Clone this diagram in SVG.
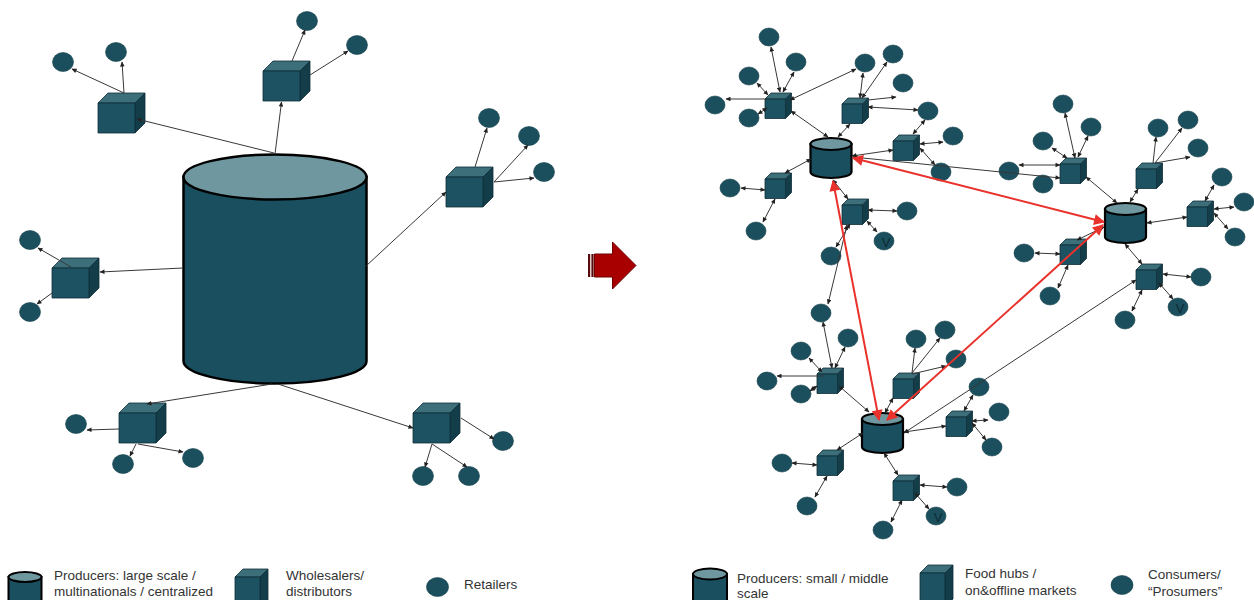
<svg xmlns="http://www.w3.org/2000/svg" xmlns:xlink="http://www.w3.org/1999/xlink" width="1254" height="600" viewBox="0 0 1254 600">
  <style>
    .bg { fill: #ffffff; }
    .dot { fill: #1b4f5d; stroke: #143f4a; stroke-width: 0.6; }
    .cf { fill: #1c5262; }
    .ct { fill: #3d6f7b; }
    .cs { fill: #123d49; }
    .cedge { stroke: #0f2f38; stroke-width: 0.8; stroke-linejoin: round; }
    .cylb { fill: #1a4f5f; stroke: #000; }
    .cylt { fill: #6f979f; stroke: #000; }
    .ln { stroke: #383838; stroke-width: 1; fill: none; marker-end: url(#ah); }
    .dbl { marker-start: url(#ah); }
    .red { stroke: #e8322b; stroke-width: 2; fill: none; marker-start: url(#rh); marker-end: url(#rh); }
    .lbl { font-family: "Liberation Sans", Arial, sans-serif; font-size: 13.5px; fill: #333; }
    .v { font-family: "Liberation Sans", Arial, sans-serif; font-size: 13px; fill: #0d2a33; }
  </style>
  <defs>
    <marker id="ah" viewBox="0 0 10 10" refX="9" refY="5" markerWidth="5.5" markerHeight="5" markerUnits="userSpaceOnUse" orient="auto-start-reverse">
      <path d="M0 0.5 L10 5 L0 9.5 Z" fill="#222"/>
    </marker>
    <marker id="rh" viewBox="0 0 10 10" refX="9" refY="5" markerWidth="14" markerHeight="11" markerUnits="userSpaceOnUse" orient="auto-start-reverse">
      <path d="M0 0 L10 5 L0 10 Z" fill="#e8322b"/>
    </marker>
    <!-- large wholesaler cube: front 37x30, depth 10 -->
    <g id="cubeL" class="cedge">
      <path class="ct" d="M0 10 L10 0 L47 0 L37 10 Z"/>
      <path class="cs" d="M37 10 L47 0 L47 30 L37 40 Z"/>
      <rect class="cf" x="0" y="10" width="37" height="30"/>
    </g>
    <!-- small hub cube: front 20.5x19.5, depth 6 -->
    <g id="cubeS" class="cedge">
      <path class="ct" d="M0 6 L6 0 L26.5 0 L20.5 6 Z"/>
      <path class="cs" d="M20.5 6 L26.5 0 L26.5 19.5 L20.5 25.5 Z"/>
      <rect class="cf" x="0" y="6" width="20.5" height="19.5"/>
    </g>
    <!-- legend cube -->
    <g id="cubeK" class="cedge">
      <path class="ct" d="M0 8 L8 0 L33 0 L25 8 Z"/>
      <path class="cs" d="M25 8 L33 0 L33 34 L25 42 Z"/>
      <rect class="cf" x="0" y="8" width="25" height="34"/>
    </g>
    <!-- small producer cylinder, centred on x=0, top at y=0 -->
    <g id="cylS" stroke-width="2.2">
      <path class="cylb" d="M-20.5 6 L-20.5 34 A20.5 6 0 0 0 20.5 34 L20.5 6 Z"/>
      <ellipse class="cylt" cx="0" cy="6" rx="20.5" ry="6"/>
    </g>
    <ellipse id="dotS" class="dot" cx="0" cy="0" rx="10" ry="9"/>
    <ellipse id="dotL" class="dot" cx="0" cy="0" rx="10.5" ry="9.5"/>
  </defs>

  <rect class="bg" x="0" y="0" width="1254" height="600"/>

  <!-- ===== centralized network ===== -->
  <g id="producer-large">
    <path class="cylb" stroke-width="2.5" d="M183.5 177 L183.5 361 A91.5 22.5 0 0 0 366.5 361 L366.5 177 Z"/>
    <ellipse class="cylt" stroke-width="2.5" cx="275" cy="177" rx="91.5" ry="22.5"/>
  </g>

  <g id="wholesaler-1"><use xlink:href="#cubeL" x="98" y="93"/></g>
  <g id="wholesaler-2"><use xlink:href="#cubeL" x="263" y="61"/></g>
  <g id="wholesaler-3"><use xlink:href="#cubeL" x="446" y="167"/></g>
  <g id="wholesaler-4"><use xlink:href="#cubeL" x="52" y="258"/></g>
  <g id="wholesaler-5"><use xlink:href="#cubeL" x="119" y="403"/></g>
  <g id="wholesaler-6"><use xlink:href="#cubeL" x="413" y="403"/></g>

  <g id="retailer-1"><use xlink:href="#dotL" x="63" y="62"/></g>
  <g id="retailer-2"><use xlink:href="#dotL" x="116" y="52"/></g>
  <g id="retailer-3"><use xlink:href="#dotL" x="307" y="21"/></g>
  <g id="retailer-4"><use xlink:href="#dotL" x="357" y="45"/></g>
  <g id="retailer-5"><use xlink:href="#dotL" x="489" y="118"/></g>
  <g id="retailer-6"><use xlink:href="#dotL" x="529" y="136"/></g>
  <g id="retailer-7"><use xlink:href="#dotL" x="544" y="172"/></g>
  <g id="retailer-8"><use xlink:href="#dotL" x="30" y="240"/></g>
  <g id="retailer-9"><use xlink:href="#dotL" x="30" y="312"/></g>
  <g id="retailer-10"><use xlink:href="#dotL" x="76" y="424"/></g>
  <g id="retailer-11"><use xlink:href="#dotL" x="123" y="464"/></g>
  <g id="retailer-12"><use xlink:href="#dotL" x="193" y="458"/></g>
  <g id="retailer-13"><use xlink:href="#dotL" x="503" y="441"/></g>
  <g id="retailer-14"><use xlink:href="#dotL" x="423" y="476"/></g>
  <g id="retailer-15"><use xlink:href="#dotL" x="469" y="476"/></g>

  <!-- transition arrow -->
  <g id="shift-arrow">
    <rect x="588" y="254" width="2.2" height="23" fill="#5a0a0a"/>
    <rect x="591.4" y="254" width="2.2" height="23" fill="#5a0a0a"/>
    <path d="M594.5 254 L612.5 254 L612.5 242 L636 265.5 L612.5 289 L612.5 277 L594.5 277 Z" fill="#a80000" stroke="#6e0000" stroke-width="1"/>
  </g>

  <!-- ===== decentralized network ===== -->
  <g id="producer-a"><use xlink:href="#cylS" x="831" y="138"/></g>
  <g id="producer-b"><use xlink:href="#cylS" x="1125.5" y="203"/></g>
  <g id="producer-c"><use xlink:href="#cylS" x="882.5" y="413"/></g>

  <g id="hub-1"><use xlink:href="#cubeS" x="765" y="93"/></g>
  <g id="hub-2"><use xlink:href="#cubeS" x="842" y="98"/></g>
  <g id="hub-3"><use xlink:href="#cubeS" x="893" y="135"/></g>
  <g id="hub-4"><use xlink:href="#cubeS" x="765" y="173"/></g>
  <g id="hub-5"><use xlink:href="#cubeS" x="842" y="199"/></g>
  <g id="hub-6"><use xlink:href="#cubeS" x="1060" y="158"/></g>
  <g id="hub-7"><use xlink:href="#cubeS" x="1136" y="163"/></g>
  <g id="hub-8"><use xlink:href="#cubeS" x="1187" y="201"/></g>
  <g id="hub-9"><use xlink:href="#cubeS" x="1060" y="239"/></g>
  <g id="hub-10"><use xlink:href="#cubeS" x="1136" y="264"/></g>
  <g id="hub-11"><use xlink:href="#cubeS" x="817" y="368"/></g>
  <g id="hub-12"><use xlink:href="#cubeS" x="893" y="373"/></g>
  <g id="hub-13"><use xlink:href="#cubeS" x="946" y="411"/></g>
  <g id="hub-14"><use xlink:href="#cubeS" x="817" y="450"/></g>
  <g id="hub-15"><use xlink:href="#cubeS" x="893" y="475"/></g>

  <g id="consumer-1"><use xlink:href="#dotS" x="769" y="37"/></g>
  <g id="consumer-2"><use xlink:href="#dotS" x="796" y="62"/></g>
  <g id="consumer-3"><use xlink:href="#dotS" x="749" y="76"/></g>
  <g id="consumer-4"><use xlink:href="#dotS" x="715" y="105"/></g>
  <g id="consumer-5"><use xlink:href="#dotS" x="749" y="118"/></g>
  <g id="consumer-6"><use xlink:href="#dotS" x="865" y="63"/></g>
  <g id="consumer-7"><use xlink:href="#dotS" x="893" y="54"/></g>
  <g id="consumer-8"><use xlink:href="#dotS" x="903" y="83"/></g>
  <g id="consumer-9"><use xlink:href="#dotS" x="928" y="111"/></g>
  <g id="consumer-10"><use xlink:href="#dotS" x="953" y="136"/></g>
  <g id="consumer-11"><use xlink:href="#dotS" x="941" y="172"/></g>
  <g id="consumer-12"><use xlink:href="#dotS" x="730" y="188"/></g>
  <g id="consumer-13"><use xlink:href="#dotS" x="756" y="231"/></g>
  <g id="consumer-14"><use xlink:href="#dotS" x="907" y="211"/></g>
  <g id="consumer-15"><use xlink:href="#dotS" x="884" y="241"/><text class="v" x="886" y="247" text-anchor="middle">V</text></g>
  <g id="consumer-16"><use xlink:href="#dotS" x="831" y="256"/></g>
  <g id="consumer-17"><use xlink:href="#dotS" x="1063" y="104"/></g>
  <g id="consumer-18"><use xlink:href="#dotS" x="1091" y="127"/></g>
  <g id="consumer-19"><use xlink:href="#dotS" x="1043" y="141"/></g>
  <g id="consumer-20"><use xlink:href="#dotS" x="1009" y="171"/></g>
  <g id="consumer-21"><use xlink:href="#dotS" x="1043" y="184"/></g>
  <g id="consumer-22"><use xlink:href="#dotS" x="1158" y="128"/></g>
  <g id="consumer-23"><use xlink:href="#dotS" x="1188" y="120"/></g>
  <g id="consumer-24"><use xlink:href="#dotS" x="1198" y="148"/></g>
  <g id="consumer-25"><use xlink:href="#dotS" x="1222" y="177"/></g>
  <g id="consumer-26"><use xlink:href="#dotS" x="1244" y="202"/></g>
  <g id="consumer-27"><use xlink:href="#dotS" x="1235" y="237"/></g>
  <g id="consumer-28"><use xlink:href="#dotS" x="1024" y="253"/></g>
  <g id="consumer-29"><use xlink:href="#dotS" x="1050" y="296"/></g>
  <g id="consumer-30"><use xlink:href="#dotS" x="1201" y="277"/></g>
  <g id="consumer-31"><use xlink:href="#dotS" x="1178" y="307"/><text class="v" x="1180" y="313" text-anchor="middle">V</text></g>
  <g id="consumer-32"><use xlink:href="#dotS" x="1125" y="320"/></g>
  <g id="consumer-33"><use xlink:href="#dotS" x="821" y="313"/></g>
  <g id="consumer-34"><use xlink:href="#dotS" x="848" y="338"/></g>
  <g id="consumer-35"><use xlink:href="#dotS" x="801" y="351"/></g>
  <g id="consumer-36"><use xlink:href="#dotS" x="767" y="381"/></g>
  <g id="consumer-37"><use xlink:href="#dotS" x="801" y="394"/></g>
  <g id="consumer-38"><use xlink:href="#dotS" x="916" y="339"/></g>
  <g id="consumer-39"><use xlink:href="#dotS" x="945" y="330"/></g>
  <g id="consumer-40"><use xlink:href="#dotS" x="956" y="359"/></g>
  <g id="consumer-41"><use xlink:href="#dotS" x="979" y="387"/></g>
  <g id="consumer-42"><use xlink:href="#dotS" x="999" y="412"/></g>
  <g id="consumer-43"><use xlink:href="#dotS" x="992" y="447"/></g>
  <g id="consumer-44"><use xlink:href="#dotS" x="782" y="463"/></g>
  <g id="consumer-45"><use xlink:href="#dotS" x="807" y="506"/></g>
  <g id="consumer-46"><use xlink:href="#dotS" x="957" y="487"/></g>
  <g id="consumer-47"><use xlink:href="#dotS" x="936" y="516"/><text class="v" x="938" y="522" text-anchor="middle">V</text></g>
  <g id="consumer-48"><use xlink:href="#dotS" x="883" y="530"/></g>

  <!-- ===== connectors ===== -->
  <g id="connectors">
    <!-- centralized: producer to wholesalers -->
    <line class="ln" x1="275" y1="154" x2="281.5" y2="102"/>
    <line class="ln" x1="274" y1="153" x2="137" y2="119"/>
    <line class="ln" x1="366" y1="266" x2="446" y2="192"/>
    <line class="ln" x1="183" y1="268" x2="100" y2="272"/>
    <line class="ln" x1="272" y1="384" x2="147" y2="404"/>
    <line class="ln" x1="278" y1="384" x2="413" y2="428"/>
    <!-- centralized: wholesalers to retailers -->
    <line class="ln" x1="292" y1="61" x2="305" y2="30"/>
    <line class="ln" x1="310" y1="75" x2="348" y2="51"/>
    <line class="ln" x1="124" y1="93" x2="122" y2="62"/>
    <line class="ln" x1="124" y1="93" x2="72" y2="69"/>
    <line class="ln" x1="475" y1="167" x2="487" y2="128"/>
    <line class="ln" x1="494" y1="182" x2="528" y2="145"/>
    <line class="ln" x1="494" y1="182" x2="534" y2="178"/>
    <line class="ln" x1="71" y1="267" x2="38" y2="248"/>
    <line class="ln" x1="52" y1="293" x2="37" y2="304"/>
    <line class="ln" x1="119" y1="429" x2="87" y2="430"/>
    <line class="ln" x1="136" y1="444" x2="130" y2="456"/>
    <line class="ln" x1="138" y1="444" x2="183" y2="452"/>
    <line class="ln" x1="461" y1="418" x2="494" y2="439"/>
    <line class="ln" x1="432" y1="444" x2="425" y2="467"/>
    <line class="ln" x1="432" y1="444" x2="467" y2="467"/>

    <!-- decentralized: cluster around producer A -->
    <line class="ln" x1="767" y1="99" x2="726" y2="99"/>
    <line class="ln dbl" x1="768" y1="95" x2="757" y2="83"/>
    <line class="ln dbl" x1="780" y1="92" x2="771" y2="47"/>
    <line class="ln dbl" x1="783" y1="92" x2="794" y2="72"/>
    <line class="ln dbl" x1="767" y1="108" x2="758" y2="114"/>
    <line class="ln dbl" x1="790" y1="100" x2="856" y2="69"/>
    <line class="ln dbl" x1="791" y1="111" x2="828" y2="137"/>
    <line class="ln dbl" x1="860" y1="98" x2="863" y2="73"/>
    <line class="ln dbl" x1="862" y1="98" x2="887" y2="62"/>
    <line class="ln" x1="868" y1="100" x2="896" y2="97"/>
    <line class="ln dbl" x1="868" y1="107" x2="918" y2="110"/>
    <line class="ln dbl" x1="850" y1="124" x2="838" y2="137"/>
    <line class="ln dbl" x1="925" y1="120" x2="913" y2="134"/>
    <line class="ln dbl" x1="920" y1="144" x2="943" y2="142"/>
    <line class="ln dbl" x1="920" y1="148" x2="935" y2="165"/>
    <line class="ln dbl" x1="852" y1="156" x2="893" y2="150"/>
    <line class="ln dbl" x1="853" y1="157" x2="1060" y2="178"/>
    <line class="ln dbl" x1="811" y1="159" x2="785" y2="173"/>
    <line class="ln dbl" x1="741" y1="188" x2="765" y2="190"/>
    <line class="ln dbl" x1="775" y1="199" x2="763" y2="222"/>
    <line class="ln dbl" x1="833" y1="180" x2="848" y2="199"/>
    <line class="ln dbl" x1="868" y1="210" x2="897" y2="211"/>
    <line class="ln dbl" x1="867" y1="221" x2="877" y2="232"/>
    <line class="ln dbl" x1="850" y1="224" x2="836" y2="247"/>
    <line class="ln dbl" x1="847" y1="225" x2="828" y2="304"/>

    <!-- decentralized: cluster around producer B -->
    <line class="ln dbl" x1="1075" y1="158" x2="1065" y2="113"/>
    <line class="ln dbl" x1="1078" y1="157" x2="1088" y2="136"/>
    <line class="ln dbl" x1="1067" y1="158" x2="1052" y2="148"/>
    <line class="ln dbl" x1="1019" y1="165" x2="1060" y2="165"/>
    <line class="ln dbl" x1="1086" y1="177" x2="1117" y2="203"/>
    <line class="ln dbl" x1="1138" y1="189" x2="1130" y2="202"/>
    <line class="ln" x1="1153" y1="163" x2="1156" y2="137"/>
    <line class="ln" x1="1155" y1="163" x2="1182" y2="128"/>
    <line class="ln" x1="1155" y1="163" x2="1190" y2="157"/>
    <line class="ln dbl" x1="1147" y1="223" x2="1187" y2="217"/>
    <line class="ln dbl" x1="1205" y1="201" x2="1214" y2="185"/>
    <line class="ln dbl" x1="1214" y1="209" x2="1234" y2="207"/>
    <line class="ln dbl" x1="1214" y1="213" x2="1228" y2="229"/>
    <line class="ln dbl" x1="1077" y1="240" x2="1104" y2="227"/>
    <line class="ln dbl" x1="1035" y1="253" x2="1060" y2="254"/>
    <line class="ln dbl" x1="1068" y1="265" x2="1058" y2="288"/>
    <line class="ln dbl" x1="1125" y1="244" x2="1142" y2="264"/>
    <line class="ln dbl" x1="1163" y1="274" x2="1191" y2="277"/>
    <line class="ln dbl" x1="1159" y1="283" x2="1173" y2="299"/>
    <line class="ln dbl" x1="1142" y1="290" x2="1132" y2="311"/>
    <line class="ln dbl" x1="1136" y1="280" x2="904" y2="433"/>

    <!-- decentralized: cluster around producer C -->
    <line class="ln dbl" x1="839" y1="386" x2="869" y2="412"/>
    <line class="ln dbl" x1="832" y1="368" x2="823" y2="322"/>
    <line class="ln dbl" x1="835" y1="368" x2="845" y2="347"/>
    <line class="ln dbl" x1="822" y1="372" x2="809" y2="358"/>
    <line class="ln" x1="825" y1="376" x2="777" y2="376"/>
    <line class="ln dbl" x1="817" y1="386" x2="810" y2="391"/>
    <line class="ln dbl" x1="893" y1="398" x2="885" y2="413"/>
    <line class="ln" x1="912" y1="373" x2="915" y2="348"/>
    <line class="ln" x1="912" y1="373" x2="940" y2="338"/>
    <line class="ln" x1="912" y1="374" x2="946" y2="366"/>
    <line class="ln dbl" x1="904" y1="432" x2="946" y2="426"/>
    <line class="ln dbl" x1="964" y1="411" x2="973" y2="395"/>
    <line class="ln dbl" x1="972" y1="421" x2="988" y2="420"/>
    <line class="ln dbl" x1="972" y1="423" x2="986" y2="440"/>
    <line class="ln dbl" x1="863" y1="433" x2="837" y2="450"/>
    <line class="ln dbl" x1="792" y1="463" x2="817" y2="465"/>
    <line class="ln dbl" x1="827" y1="476" x2="815" y2="497"/>
    <line class="ln dbl" x1="884" y1="453" x2="898" y2="475"/>
    <line class="ln dbl" x1="920" y1="485" x2="947" y2="487"/>
    <line class="ln dbl" x1="915" y1="493" x2="929" y2="509"/>
    <line class="ln dbl" x1="902" y1="500" x2="891" y2="522"/>

    <!-- producer-to-producer links -->
    <line class="red" x1="853" y1="158" x2="1104" y2="222"/>
    <line class="red" x1="833" y1="181" x2="879" y2="420"/>
    <line class="red" x1="1103" y1="225" x2="887" y2="420"/>
  </g>

  <!-- ===== legends ===== -->
  <g id="legend-left">
    <g stroke-width="2">
      <path class="cylb" d="M8.5 577 L8.5 604 A16.5 5 0 0 0 41.5 604 L41.5 577 Z"/>
      <ellipse class="cylt" cx="25" cy="577" rx="16.5" ry="5"/>
    </g>
    <text class="lbl" x="54" y="580">Producers: large scale /</text>
    <text class="lbl" x="54" y="596">multinationals / centralized</text>
    <use xlink:href="#cubeK" x="235" y="569"/>
    <text class="lbl" x="286" y="580">Wholesalers/</text>
    <text class="lbl" x="286" y="596">distributors</text>
    <ellipse class="dot" cx="437.5" cy="587" rx="11" ry="9.5"/>
    <text class="lbl" x="464" y="589">Retailers</text>
  </g>

  <g id="legend-right">
    <g stroke-width="2">
      <path class="cylb" d="M693 574 L693 601 A17 5.5 0 0 0 727 601 L727 574 Z"/>
      <ellipse class="cylt" cx="710" cy="574" rx="17" ry="5.5"/>
    </g>
    <text class="lbl" x="737" y="583">Producers: small / middle</text>
    <text class="lbl" x="737" y="598">scale</text>
    <use xlink:href="#cubeK" x="920" y="565"/>
    <text class="lbl" x="965" y="578">Food hubs /</text>
    <text class="lbl" x="965" y="595">on&amp;offline markets</text>
    <ellipse class="dot" cx="1122" cy="585" rx="11" ry="9.5"/>
    <text class="lbl" x="1148" y="579">Consumers/</text>
    <text class="lbl" x="1148" y="596">“Prosumers”</text>
  </g>
</svg>
